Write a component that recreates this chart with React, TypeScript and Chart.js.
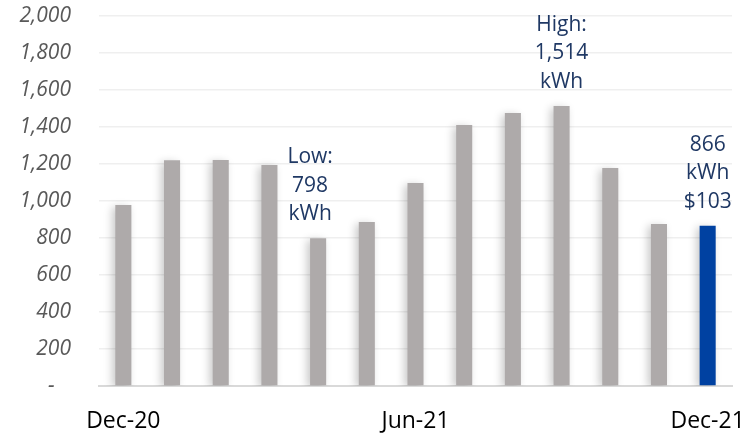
import React, { useEffect, useRef } from "react";
import { Chart, registerables } from "chart.js";

Chart.register(...registerables);

const months = [
  "Dec-20", "Jan-21", "Feb-21", "Mar-21", "Apr-21", "May-21", "Jun-21",
  "Jul-21", "Aug-21", "Sep-21", "Oct-21", "Nov-21", "Dec-21",
];
const usageKwh = [978, 1220, 1222, 1195, 798, 886, 1097, 1411, 1476, 1514, 1178, 876, 866];
const shownMonthLabels = ["Dec-20", "Jun-21", "Dec-21"];
const yTicks = [0, 200, 400, 600, 800, 1000, 1200, 1400, 1600, 1800, 2000];
const annotationIndex = [4, 9, 12];
const annotationLines = [
  ["Low:", "798", "kWh"],
  ["High:", "1,514", "kWh"],
  ["866", "kWh", "$103"],
];
const annotationShift = [-8, 0, 0];

const GRAY = "#AEAAAA";
const BLUE = "#0041A1";
const NAVY = "#1F3864";

const shadowPlugin = {
  id: "barShadow",
  beforeDatasetsDraw(chart: any) {
    const ctx = chart.ctx;
    ctx.save();
    ctx.shadowColor = "rgba(0,0,0,0.22)";
    ctx.shadowBlur = 9;
    ctx.shadowOffsetX = -3;
    ctx.shadowOffsetY = 2;
  },
  afterDatasetsDraw(chart: any) {
    chart.ctx.restore();
  },
};

const labelPlugin = {
  id: "barNotes",
  afterDraw(chart: any) {
    const ctx = chart.ctx;
    const x = chart.scales.x;
    const y = chart.scales.y;
    ctx.save();
    ctx.font = "21px 'Open Sans'";
    ctx.fillStyle = NAVY;
    ctx.textAlign = "center";
    ctx.textBaseline = "alphabetic";
    annotationIndex.forEach((idx, k) => {
      const cx = x.getPixelForValue(idx) + annotationShift[k];
      const top = y.getPixelForValue(usageKwh[idx]);
      const lines = annotationLines[k];
      lines.forEach((t, i) => {
        const base = top - 18 - (lines.length - 1 - i) * 28.5;
        ctx.fillText(t, cx, base);
      });
    });
    ctx.restore();
  },
};

export default function App() {
  const ref = useRef<HTMLCanvasElement | null>(null);
  useEffect(() => {
    if (!ref.current) return;
    const chart = new Chart(ref.current, {
      type: "bar",
      data: {
        labels: months,
        datasets: [
          {
            data: usageKwh,
            backgroundColor: usageKwh.map((_, i) => (i === usageKwh.length - 1 ? BLUE : GRAY)),
            barPercentage: 0.33,
            categoryPercentage: 1,
            borderWidth: 0,
          },
        ],
      },
      options: {
        animation: false,
        responsive: true,
        maintainAspectRatio: false,
        layout: { padding: { left: 0, right: 13, top: 16, bottom: 0 } },
        plugins: { legend: { display: false }, tooltip: { enabled: false } },
        scales: {
          x: {
            grid: { display: false },
            border: { display: true, color: "#D9D9D9", width: 2 },
            ticks: {
              autoSkip: false,
              maxRotation: 0,
              padding: 14,
              color: "#000000",
              font: { family: "'Open Sans'", size: 23 },
              callback: (_v: any, i: number) =>
                shownMonthLabels.includes(months[i]) ? months[i] : "",
            },
            afterFit: (s: any) => {
              s.height = 48;
              s.paddingLeft = 0;
              s.paddingRight = 0;
            },
          },
          y: {
            min: 0,
            max: 2000,
            afterBuildTicks: (s: any) => {
              s.ticks = yTicks.map((v) => ({ value: v }));
            },
            grid: { color: "#EFEFEF", lineWidth: 1.5, drawTicks: false },
            border: { display: false },
            ticks: {
              padding: 28,
              color: "#595959",
              font: { family: "'Open Sans'", size: 21, style: "italic" },
              callback: (v: any) => (Number(v) === 0 ? "-   " : Number(v).toLocaleString("en-US")),
            },
            afterFit: (s: any) => {
              s.width = 99;
              s.paddingTop = 0;
              s.paddingBottom = 0;
            },
          },
        },
      },
      plugins: [shadowPlugin, labelPlugin],
    });
    return () => chart.destroy();
  }, []);
  return (
    <div style={{ position: "fixed", left: 0, top: 0, width: 745, height: 434, background: "#fff" }}>
      <canvas ref={ref} />
    </div>
  );
}
